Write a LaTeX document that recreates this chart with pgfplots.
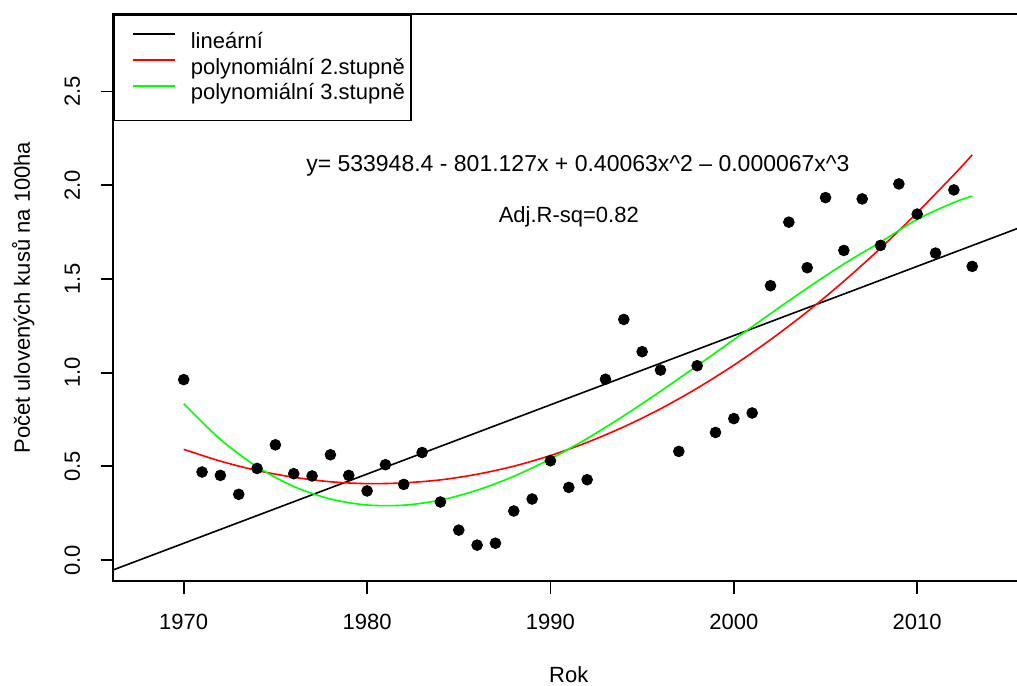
\documentclass[border=0pt]{standalone}
\usepackage{fontspec}
\setmainfont{Liberation Sans}
\usepackage{pgfplots}
\pgfplotsset{compat=1.18}
\definecolor{rred}{RGB}{255,0,0}
\definecolor{rgreen}{RGB}{0,255,0}
\newcommand\fsz{\fontsize{11bp}{13.2bp}\selectfont}

% Yearly harvest per 100 ha
\pgfplotstableread{
rok  pocet
1970 0.963
1971 0.470
1972 0.452
1973 0.351
1974 0.489
1975 0.615
1976 0.461
1977 0.449
1978 0.562
1979 0.452
1980 0.369
1981 0.509
1982 0.404
1983 0.574
1984 0.310
1985 0.160
1986 0.080
1987 0.090
1988 0.262
1989 0.326
1990 0.530
1991 0.388
1992 0.429
1993 0.965
1994 1.284
1995 1.112
1996 1.014
1997 0.580
1998 1.037
1999 0.681
2000 0.755
2001 0.785
2002 1.464
2003 1.803
2004 1.560
2005 1.934
2006 1.652
2007 1.927
2008 1.679
2009 2.007
2010 1.846
2011 1.638
2012 1.975
2013 1.567
}\harvest

% Fitted trends
\pgfplotstableread{
x y
1966 -0.058
2016 1.789
}\linfit

\pgfplotstableread{
x y
1970 0.591
1972 0.528
1974 0.478
1976 0.442
1978 0.418
1980 0.408
1982 0.412
1984 0.428
1986 0.458
1988 0.501
1990 0.558
1992 0.628
1994 0.711
1996 0.807
1998 0.917
2000 1.040
2002 1.176
2004 1.325
2006 1.488
2008 1.664
2010 1.854
2012 2.056
2013 2.162
}\quadfit

\pgfplotstableread{
x y
1970 0.834
1972 0.644
1974 0.498
1976 0.393
1978 0.326
1980 0.294
1982 0.293
1984 0.320
1986 0.373
1988 0.447
1990 0.540
1992 0.649
1994 0.770
1996 0.901
1998 1.037
2000 1.176
2002 1.315
2004 1.451
2006 1.580
2008 1.697
2010 1.818
2012 1.908
2013 1.942
}\cubfit

\begin{document}
\begin{tikzpicture}[font=\fsz]
\begin{axis}[
  at={(0bp,0bp)}, anchor=south west,
  scale only axis, width=455.5bp, height=283.4bp,
  xmin=1966.16, xmax=2015.84, ymin=-0.112, ymax=2.912,
  xtick={1970,1980,1990,2000,2010},
  xticklabels={1970,1980,1990,2000,2010},
  ytick={0,0.5,1,1.5,2,2.5},
  yticklabels={0.0,0.5,1.0,1.5,2.0,2.5},
  tick pos=left,
  tick align=outside,
  major tick length=6.3bp,
  tick style={black, line width=0.9bp},
  axis line style={line width=0.9bp},
  xticklabel style={anchor=base, font=\fsz},
  xticklabel shift=17.8bp,
  yticklabel style={rotate=90, anchor=base, font=\fsz},
  yticklabel shift=10.4bp,
  every axis x label/.style={at={(axis description cs:0.5,-0.1782)}, anchor=base, font=\fsz},
  every axis y label/.style={at={(axis description cs:-0.09144,0.5)}, rotate=90, anchor=base, font=\fsz},
  xlabel={Rok},
  ylabel={Počet ulovených kusů na 100ha},
  legend style={
    at={(0,1)}, anchor=north west,
    draw=black, line width=0.9bp, fill=white,
    inner xsep=3bp, inner ysep=7bp,
    row sep=0bp,
    nodes={inner sep=0bp, text height=9.6bp, text depth=3.3bp, font=\fsz},
    /tikz/every odd column/.append style={column sep=7.5bp},
  },
  legend cell align=left,
  legend image code/.code={\path (0bp,0bp); \draw[#1] (6.2bp,3.9bp) -- (27bp,3.9bp);},
]
\addplot[only marks, mark=*, mark size=2.7pt, black, forget plot] table[x=rok, y=pocet] {\harvest};
\addplot[black, line width=0.8bp] table {\linfit};
\addlegendentry{lineární}
\addplot[rred, line width=0.8bp, smooth] table {\quadfit};
\addlegendentry{polynomiální 2.stupně}
\addplot[rgreen, line width=0.8bp, smooth] table {\cubfit};
\addlegendentry{polynomiální 3.stupně}
\node[anchor=base, font=\fontsize{11.5bp}{13.8bp}\selectfont] at (axis cs:1991.5,2.074) {y= 533948.4 - 801.127x + 0.40063x\textasciicircum{}2 – 0.000067x\textasciicircum{}3};
\node[anchor=base] at (axis cs:1991.0,1.7995) {Adj.R-sq=0.82};
\end{axis}
\pgfresetboundingbox
\useasboundingbox (-56.65bp,-52.45bp) rectangle (451.85bp,290.55bp);
\end{tikzpicture}
\end{document}
